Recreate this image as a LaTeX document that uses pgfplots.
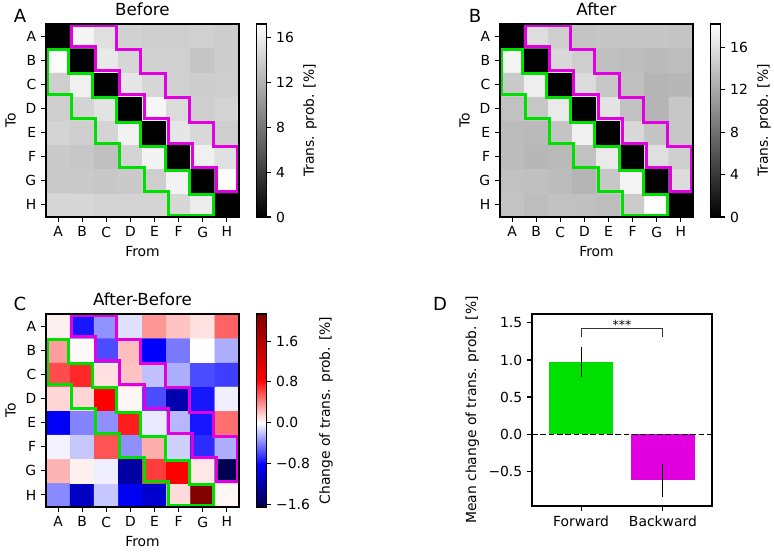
\documentclass[border=0pt]{standalone}
\usepackage{fontspec}
\setmainfont{DejaVu Sans}
\usepackage{pgfplots}
\pgfplotsset{compat=1.18}
\definecolor{fwd}{RGB}{0,224,0}
\definecolor{bwd}{RGB}{224,0,224}
\pgfplotsset{
 every axis/.append style={
  font=\fontsize{10}{12}\selectfont,
  scale only axis,
  tick align=outside,
  major tick length=3.5pt,
  every tick/.append style={black, line width=0.8pt},
  axis line style={line width=0.8pt},
  title style={font=\fontsize{12}{14}\selectfont, yshift=-3.5pt},
  /pgf/number format/assume math mode=true,
 },
 heat/.style={width=138.96pt, height=138.96pt, xmin=-0.5,xmax=7.5,ymin=-0.5,ymax=7.5,
   enlargelimits=false, xtick={0,...,7}, ytick={0,...,7},
   xticklabels={A,B,C,D,E,F,G,H}, yticklabels={H,G,F,E,D,C,B,A},
   xlabel=From, ylabel=To, tick pos=left, axis on top},
 cbar/.style={colorbar, colorbar style={at={(parent axis.north east)}, anchor=north west,
   xshift=4pt, width=7.2pt, height=138.96pt, scale only axis,
   ytick pos=right, yticklabel pos=right, tick align=outside, major tick length=3.5pt, #1}},
 mag/.style={bwd, line width=2.2pt, line join=miter},
 grn/.style={fwd, line width=2.2pt, line join=miter},
}
\newcommand{\magpoly}{\addplot[mag] coordinates {(0.565,7.435) (2.435,7.435) (2.435,6.435) (3.435,6.435) (3.435,5.435) (4.435,5.435) (4.435,4.435) (5.435,4.435) (5.435,3.435) (6.435,3.435) (6.435,2.435) (7.435,2.435) (7.435,0.565) (6.565,0.565) (6.565,1.565) (5.565,1.565) (5.565,2.565) (4.565,2.565) (4.565,3.565) (3.565,3.565) (3.565,4.565) (2.565,4.565) (2.565,5.565) (1.565,5.565) (1.565,6.565) (0.565,6.565)} --cycle;}
\newcommand{\grnpoly}{\addplot[grn] coordinates {(-0.435,6.435) (-0.435,4.565) (0.565,4.565) (0.565,3.565) (1.565,3.565) (1.565,2.565) (2.565,2.565) (2.565,1.565) (3.565,1.565) (3.565,0.565) (4.565,0.565) (4.565,-0.435) (6.435,-0.435) (6.435,0.435) (5.435,0.435) (5.435,1.435) (4.435,1.435) (4.435,2.435) (3.435,2.435) (3.435,3.435) (2.435,3.435) (2.435,4.435) (1.435,4.435) (1.435,5.435) (0.435,5.435) (0.435,6.435)} --cycle;}
\begin{document}
\begin{tikzpicture}
\path[use as bounding box] (0,0) rectangle (557.28pt,-398.16pt);

% ---------- A: Before ----------
\begin{axis}[heat, at={(33.12pt,-156.24pt)}, anchor=south west, title={Before},
  colormap={gr}{gray(0cm)=(0); gray(1cm)=(1)}, point meta min=0, point meta max=17.2,
  cbar={ytick={0,4,8,12,16}, yticklabels={0,4,8,12,16}, ylabel={Trans. prob. [\%]}}]
\addplot[matrix plot*, mesh/cols=8, point meta=explicit] table[meta=z] {
x y z
0 0 14.4
1 0 14.4
2 0 14.2
3 0 14.2
4 0 14.2
5 0 14.4
6 0 15.9
7 0 0
0 1 13.5
1 1 13.5
2 1 13.4
3 1 13.5
4 1 13.8
5 1 16.2
6 1 0
7 1 16.9
0 2 13.5
1 2 13.3
2 2 12.8
3 2 14.2
4 2 16.3
5 2 0
6 2 16.1
7 2 15.0
0 3 14.2
1 3 13.8
2 3 14.2
3 3 16.2
4 3 0
5 3 15.4
6 3 14.5
7 3 13.8
0 4 13.8
1 4 14.2
2 4 15.2
3 4 0
4 4 16.5
5 4 14.7
6 4 13.8
7 4 14.2
0 5 13.8
1 5 16.1
2 5 0
3 5 15.4
4 5 14.4
5 5 13.9
6 5 13.7
7 5 13.8
0 6 16.9
1 6 0
2 6 15.6
3 6 14.3
4 6 14.0
5 6 13.9
6 6 13.2
7 6 13.7
0 7 0
1 7 16.4
2 7 15.0
3 7 14.0
4 7 13.8
5 7 13.8
6 7 13.9
7 7 13.7
};
\magpoly
\grnpoly
\end{axis}

% ---------- B: After ----------
\begin{axis}[heat, at={(360pt,-156.24pt)}, anchor=south west, title={After},
  colormap={gr}{gray(0cm)=(0); gray(1cm)=(1)}, point meta min=0, point meta max=18.2,
  cbar={ytick={0,4,8,12,16}, yticklabels={0,4,8,12,16}, ylabel={Trans. prob. [\%]}}]
\addplot[matrix plot*, mesh/cols=8, point meta=explicit] table[meta=z] {
x y z
0 0 13.9
1 0 13.4
2 0 13.7
3 0 13.6
4 0 13.4
5 0 14.4
6 0 18.0
7 0 0
0 1 13.7
1 1 13.6
2 1 13.3
3 1 12.8
4 1 14.1
5 1 17.3
6 1 0
7 1 15.6
0 2 13.3
1 2 13.0
2 2 13.2
3 2 13.7
4 2 16.6
5 2 0
6 2 15.8
7 2 14.6
0 3 13.3
1 3 13.2
2 3 13.9
3 3 17.0
4 3 0
5 3 15.3
6 3 13.9
7 3 14.1
0 4 13.7
1 4 14.1
2 4 16.6
3 4 0
4 4 16.1
5 4 13.7
6 4 12.8
7 4 14.1
0 5 14.3
1 5 16.9
2 5 0
3 5 15.5
4 5 14.1
5 5 13.6
6 5 12.8
7 5 13.0
0 6 17.3
1 6 0
2 6 15.3
3 6 14.6
4 6 13.6
5 6 13.4
6 6 13.2
7 6 13.4
0 7 0
1 7 15.7
2 7 14.6
3 7 13.9
4 7 14.0
5 7 14.0
6 7 14.0
7 7 13.9
};
\magpoly
\grnpoly
\end{axis}

% ---------- C: After-Before ----------
\begin{axis}[heat, at={(33.12pt,-365.04pt)}, anchor=south west, title={After-Before},
  colormap={seis}{rgb255(0pt)=(0,0,77); rgb255(83pt)=(0,0,255); rgb255(165pt)=(255,255,255); rgb255(250pt)=(255,0,0); rgb255(378pt)=(128,0,0)},
  point meta min=-1.65, point meta max=2.13,
  cbar={ytick={-1.6,-0.8,0,0.8,1.6}, yticklabels={−1.6,−0.8,0.0,0.8,1.6}, ylabel={Change of trans. prob. [\%]}}]
\addplot[matrix plot*, mesh/cols=8, point meta=explicit] table[meta=z] {
x y z
0 0 -0.38
1 0 -1.10
2 0 -0.18
3 0 -0.88
4 0 -1.05
5 0 0.12
6 0 2.10
7 0 0.03
0 1 0.25
1 1 0.05
2 1 -0.05
3 1 -1.25
4 1 0.65
5 1 0.85
6 1 0.08
7 1 -1.62
0 2 -0.04
1 2 -0.18
2 2 0.57
3 2 -0.36
4 2 0.27
5 2 -0.15
6 2 -0.68
7 2 -0.26
0 3 -0.85
1 3 -0.40
2 3 -0.36
3 3 0.75
4 3 -0.07
5 3 -0.23
6 3 -0.75
7 3 0.48
0 4 0.14
1 4 0.14
2 4 0.85
3 4 0.03
4 4 -0.58
5 4 -1.20
6 4 -0.75
7 4 -0.05
0 5 0.60
1 5 0.72
2 5 0.10
3 5 0.20
4 5 -0.20
5 5 -0.26
6 5 -0.58
7 5 -0.62
0 6 0.33
1 6 0.02
2 6 -0.58
3 6 0.22
4 6 -0.82
5 6 -0.43
6 6 0.00
7 6 -0.26
0 7 0.05
1 7 -0.75
2 7 -0.35
3 7 -0.10
4 7 0.35
5 7 0.20
6 7 0.10
7 7 0.52
};
\magpoly
\grnpoly
\end{axis}

% ---------- D: bars ----------
\begin{axis}[at={(383.04pt,-364.32pt)}, anchor=south west, width=129.6pt, height=138.24pt,
  xmin=-0.6, xmax=1.6, ymin=-0.97, ymax=1.62, xtick={0,1}, xticklabels={Forward,Backward},
  ytick={-0.5,0,0.5,1,1.5}, yticklabels={−0.5,0.0,0.5,1.0,1.5}, tick pos=left,
  ylabel={Mean change of trans. prob. [\%]}]
\addplot[ybar, bar width=0.78, bar shift=0pt, fill=fwd, draw=none,
  error bars/.cd, y dir=both, y explicit, error mark=none, error bar style={black, line width=0.8pt}]
  coordinates {(0,0.97) +=(0,0.21) -=(0,0.20)};
\addplot[ybar, bar width=0.78, bar shift=0pt, fill=bwd, draw=none,
  error bars/.cd, y dir=both, y explicit, error mark=none, error bar style={black, line width=0.8pt}]
  coordinates {(1,-0.62) +=(0,0.21) -=(0,0.23)};
\addplot[black, line width=0.8pt, dash pattern=on 4pt off 2pt] coordinates {(-0.6,0) (1.6,0)};
\addplot[black!80, line width=0.6pt] coordinates {(0,1.31) (0,1.42) (1,1.42) (1,1.31)};
\node[font=\fontsize{9}{10}\selectfont] at (axis cs:0.5,1.47) {***};
\end{axis}

% panel letters
\node[font=\fontsize{13}{15}\selectfont] at (14.4pt,-11.5pt) {A};
\node[font=\fontsize{13}{15}\selectfont] at (342pt,-11.5pt) {B};
\node[font=\fontsize{13}{15}\selectfont] at (14.4pt,-218.9pt) {C};
\node[font=\fontsize{13}{15}\selectfont] at (316.8pt,-218.9pt) {D};
\end{tikzpicture}
\end{document}
